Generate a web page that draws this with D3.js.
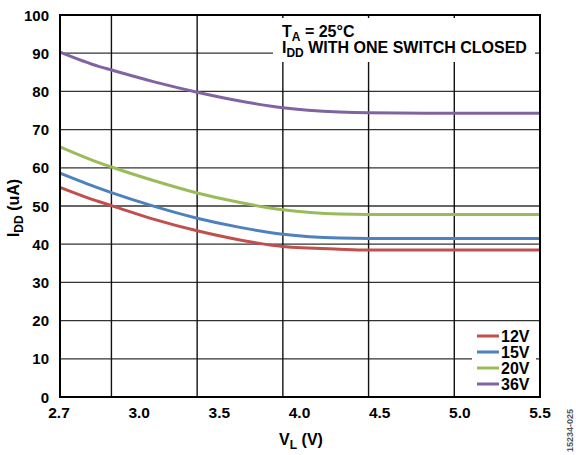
<!DOCTYPE html>
<html><head><meta charset="utf-8">
<script src="https://cdn.jsdelivr.net/npm/d3@7"></script>
<style>body{margin:0;background:#fff}svg{display:block}text{font-family:"Liberation Sans",Arial,sans-serif;font-weight:bold}</style>
</head><body>
<svg id="c" width="576" height="455"></svg>
<script>
const vl = [2.7, 2.93, 3.0, 3.25, 3.5, 3.75, 4.0, 4.33, 4.5, 5.0, 5.5];
const s12 = [54.9, 51.1, 50.1, 46.5, 43.5, 41.1, 39.4, 38.7, 38.5, 38.5, 38.5];
const s15 = [58.6, 54.6, 53.5, 49.9, 46.8, 44.4, 42.6, 41.6, 41.5, 41.5, 41.5];
const s20 = [65.5, 61.3, 60.2, 56.6, 53.4, 50.9, 49.0, 47.9, 47.8, 47.8, 47.8];
const s36 = [90.3, 86.5, 85.6, 82.5, 79.8, 77.5, 75.7, 74.6, 74.4, 74.3, 74.3];
const seriesNames = ["12V", "15V", "20V", "36V"];
const xTickLabels = ["2.7", "3.0", "3.5", "4.0", "4.5", "5.0", "5.5"];
const xGrid = [3.0, 3.5, 4.0, 4.5, 5.0];
const yTicks = [0, 10, 20, 30, 40, 50, 60, 70, 80, 90, 100];

const colors = ["#c0504d", "#4f81bd", "#9bbb59", "#8064a2"];
const seriesVals = [s12, s15, s20, s36];

const L = 60, R = 540, T = 15, B = 397;
const svg = d3.select("#c");
const x = d3.scaleLinear().domain([2.7, 5.5]).range([L, R]);
const y = d3.scaleLinear().domain([0, 100]).range([B, T]);
const xl = d3.scalePoint().domain(xTickLabels).range([L - 1, R]);

// horizontal grid
svg.append("g").selectAll("line").data(yTicks.slice(1, -1)).join("line")
  .attr("x1", L).attr("x2", R).attr("y1", d => y(d)).attr("y2", d => y(d))
  .attr("stroke", "#333").attr("stroke-width", 1.3);
// vertical grid
svg.append("g").selectAll("line").data(xGrid).join("line")
  .attr("x1", d => x(d)).attr("x2", d => x(d)).attr("y1", T).attr("y2", B)
  .attr("stroke", "#111").attr("stroke-width", 1.4);

// annotation box
svg.append("rect").attr("x", 273).attr("y", 18).attr("width", 262).attr("height", 44).attr("fill", "#fff");
// legend box
svg.append("rect").attr("x", 472).attr("y", 327).attr("width", 64).attr("height", 68).attr("fill", "#fff");

// lines
const line = d3.line().x(d => x(d[0])).y(d => y(d[1])).curve(d3.curveMonotoneX);
seriesVals.forEach((s, i) => {
  svg.append("path").datum(vl.map((v, j) => [v, s[j]]))
    .attr("d", line).attr("fill", "none").attr("stroke", colors[i]).attr("stroke-width", 3);
});

// frame
svg.append("rect").attr("x", L).attr("y", T).attr("width", R - L).attr("height", B - T)
  .attr("fill", "none").attr("stroke", "#000").attr("stroke-width", 2);

// y tick labels
svg.append("g").selectAll("text").data(yTicks).join("text")
  .attr("x", 49).attr("y", d => y(d) + 5.5).attr("text-anchor", "end")
  .attr("font-size", 15).text(d => d);
// x tick labels
svg.append("g").selectAll("text").data(xTickLabels).join("text")
  .attr("x", d => xl(d)).attr("y", 418).attr("text-anchor", "middle")
  .attr("font-size", 15.5).text(d => d);

// axis titles
const xt = svg.append("text").attr("x", 301).attr("y", 445).attr("text-anchor", "middle").attr("font-size", 16);
xt.append("tspan").text("V");
xt.append("tspan").attr("font-size", 12).attr("dy", 4).text("L");
xt.append("tspan").attr("dy", -4).text(" (V)");

const yt = svg.append("text").attr("transform", "translate(19,208) rotate(-90)").attr("text-anchor", "middle").attr("font-size", 16);
yt.append("tspan").text("I");
yt.append("tspan").attr("font-size", 12).attr("dy", 4).text("DD");
yt.append("tspan").attr("dy", -4).text(" (uA)");

// annotation
const a1 = svg.append("text").attr("x", 282).attr("y", 37).attr("font-size", 16);
a1.append("tspan").text("T");
a1.append("tspan").attr("font-size", 12).attr("dy", 4).text("A");
a1.append("tspan").attr("dy", -4).text(" = 25°C");
const a2 = svg.append("text").attr("x", 282).attr("y", 53).attr("font-size", 16);
a2.append("tspan").text("I");
a2.append("tspan").attr("font-size", 12).attr("dy", 4).text("DD");
a2.append("tspan").attr("dy", -4).text(" WITH ONE SWITCH CLOSED");

// legend
const lg = svg.append("g").selectAll("g").data(seriesNames).join("g")
  .attr("transform", (d, i) => `translate(0,${336 + i * 16})`);
lg.append("line").attr("x1", 477).attr("x2", 499).attr("y1", 0).attr("y2", 0)
  .attr("stroke", (d, i) => colors[i]).attr("stroke-width", 3);
lg.append("text").attr("x", 501).attr("y", 6).attr("font-size", 16).text(d => d);

// figure id
svg.append("text").attr("transform", "translate(573,452) rotate(-90)").attr("font-size", 9)
  .attr("font-weight", "normal").attr("fill", "#555").text("15234-025");
</script>
</body></html>
